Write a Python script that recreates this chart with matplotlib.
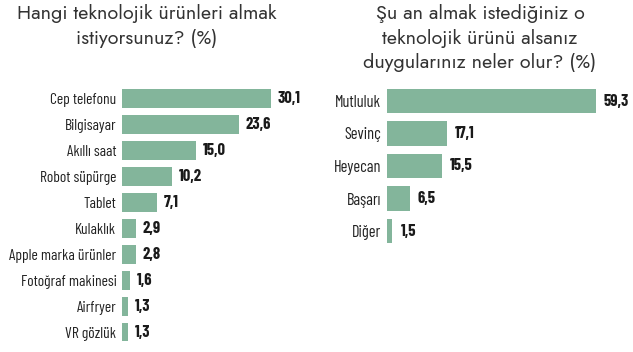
import matplotlib
matplotlib.use("Agg")
import matplotlib.pyplot as plt

# Veriler
urunler = ["Cep telefonu", "Bilgisayar", "Akıllı saat", "Robot süpürge", "Tablet",
           "Kulaklık", "Apple marka ürünler", "Fotoğraf makinesi", "Airfryer", "VR gözlük"]
urun_yuzde = [30.1, 23.6, 15.0, 10.2, 7.1, 2.9, 2.8, 1.6, 1.3, 1.3]

duygular = ["Mutluluk", "Sevinç", "Heyecan", "Başarı", "Diğer"]
duygu_yuzde = [59.3, 17.1, 15.5, 6.5, 1.5]

baslik_sol = "Hangi teknolojik ürünleri almak\nistiyorsunuz? (%)"
baslik_sag = "Şu an almak istediğiniz o\nteknolojik ürünü alsanız\nduygularınız neler olur? (%)"

RENK = "#83b59b"
W, H = 633, 352


def eksen(x0, x1, y0, y1):
    # piksel koordinatlarından figür koordinatlarına
    return fig.add_axes([x0 / W, 1 - y1 / H, (x1 - x0) / W, (y1 - y0) / H])


def cubuk_ciz(ax, etiketler, degerler, xmax, yukseklik, etiket_boyu):
    ypos = range(len(etiketler))
    ax.barh(ypos, degerler, height=yukseklik, color=RENK)
    ax.set_xlim(0, xmax)
    ax.set_ylim(len(etiketler) - 0.5, -0.5)
    ax.set_yticks(list(ypos))
    ax.set_yticklabels(etiketler, family="Barlow Condensed", fontsize=etiket_boyu, color="#222222")
    ax.tick_params(axis="y", length=0, pad=4)
    ax.set_xticks([])
    for s in ax.spines.values():
        s.set_visible(False)
    for i, v in enumerate(degerler):
        ax.text(v + xmax * 0.033, i, f"{v:.1f}".replace(".", ","), va="center", ha="left",
                family="Barlow Condensed", fontweight="bold", fontsize=12, color="#1a1a1a")


fig = plt.figure(figsize=(6.33, 3.52), dpi=100)

ax1 = eksen(122, 320, 85.5, 345)
cubuk_ciz(ax1, urunler, urun_yuzde, 198 / 4.95, 0.73, 11.2)

ax2 = eksen(387, 633, 84.75, 247.25)
cubuk_ciz(ax2, duygular, duygu_yuzde, 246 / 3.52, 0.75, 11.8)

fig.text(147 / W, 1 - 4 / H, baslik_sol, ha="center", va="top", family="Jost",
         fontsize=14.2, color="#333333", linespacing=1.38)
fig.text(480 / W, 1 - 4 / H, baslik_sag, ha="center", va="top", family="Jost",
         fontsize=14.2, color="#333333", linespacing=1.38)

fig.savefig("out.png", dpi=100)
